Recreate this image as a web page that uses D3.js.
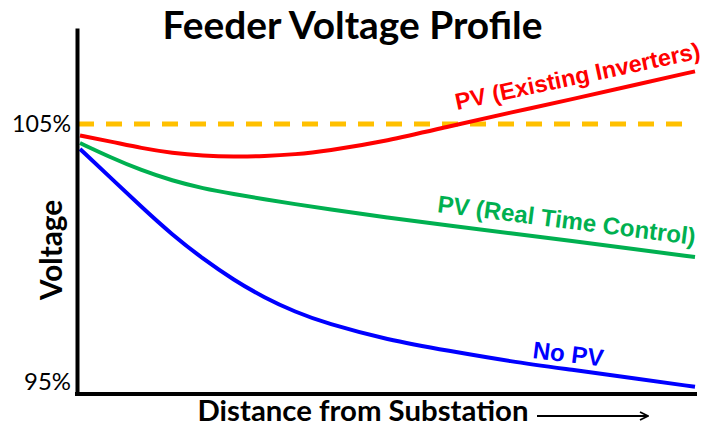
<!DOCTYPE html>
<html>
<head>
<meta charset="utf-8">
<script src="https://cdn.jsdelivr.net/npm/d3@7"></script>
<style>
  body { margin: 0; background: #fff; }
  svg { display: block; }
</style>
</head>
<body>
<div id="chart"></div>
<script>
const W = 711, H = 431;

// distance along feeder (% of length)
const distance = [0, 5, 10, 15, 20, 25, 30, 35, 40, 50, 60, 70, 80, 90, 100];
// voltage (%)
const noPV       = [104.03, 102.91, 101.78, 100.70, 99.77, 98.95, 98.26, 97.71, 97.27, 96.63, 96.20, 95.79, 95.47, 95.14, 94.81];
const pvRealTime = [104.26, 103.70, 103.20, 102.80, 102.50, 102.28, 102.08, 101.89, 101.71, 101.37, 101.06, 100.76, 100.46, 100.15, 99.84];
const pvExisting = [104.55, 104.32, 104.06, 103.87, 103.77, 103.73, 103.75, 103.82, 103.95, 104.34, 104.91, 105.44, 105.96, 106.50, 107.04];

const yTicks = [95, 105];
const limitValue = 105;
const limitEnd = 98.5;

const series = [
  { name: "No PV", values: noPV, color: "#0000ff", label: { d: 73.5, v: 95.93, angle: 7, width: 71 } },
  { name: "PV (Real Time Control)", values: pvRealTime, color: "#00b050", label: { d: 58.0, v: 101.59, angle: 7.3, width: 260 } },
  { name: "PV (Existing Inverters)", values: pvExisting, color: "#ff0000", label: { d: 61.3, v: 105.54, angle: -12, width: 250 } }
];

const svg = d3.select("#chart").append("svg")
  .attr("width", W)
  .attr("height", H);

const x = d3.scaleLinear().domain([0, 100]).range([80, 695]);
const y = d3.scaleLinear().domain([94.53, 108.72]).range([394, 28]);

// scale a text's font-size so that it spans the wanted width
function fit(sel, w) {
  const len = sel.node().getComputedTextLength();
  const fs = parseFloat(sel.attr("font-size"));
  sel.attr("font-size", (fs * w / len).toFixed(2));
  return sel;
}

// 105% limit
svg.append("line")
  .attr("x1", x(0) - 2).attr("x2", x(limitEnd))
  .attr("y1", y(limitValue)).attr("y2", y(limitValue))
  .attr("stroke", "#ffc000")
  .attr("stroke-width", 5)
  .attr("stroke-dasharray", "16,12");

const line = d3.line()
  .x((v, i) => x(distance[i]))
  .y(v => y(v))
  .curve(d3.curveBasis);

svg.selectAll(".curve")
  .data(series)
  .enter().append("path")
  .attr("class", "curve")
  .attr("d", d => line(d.values))
  .attr("fill", "none")
  .attr("stroke", d => d.color)
  .attr("stroke-width", 4);

svg.selectAll(".clabel")
  .data(series)
  .enter().append("text")
  .attr("class", "clabel")
  .attr("transform", d => `translate(${x(d.label.d)},${y(d.label.v)}) rotate(${d.label.angle})`)
  .attr("font-family", "Liberation Sans, Arial, sans-serif")
  .attr("font-weight", "bold")
  .attr("font-size", 20)
  .attr("fill", d => d.color)
  .text(d => d.name)
  .each(function(d) { fit(d3.select(this), d.label.width); });

// axes
const yAxis = d3.axisLeft(y)
  .tickValues(yTicks)
  .tickSize(0)
  .tickPadding(6)
  .tickFormat(d => d + "%");

const gy = svg.append("g")
  .attr("transform", "translate(77,0)")
  .call(yAxis);
gy.select(".domain").attr("stroke", "#000").attr("stroke-width", 4);
gy.selectAll("text")
  .attr("font-family", "Lato, sans-serif")
  .attr("font-size", 21)
  .attr("fill", "#000");
gy.selectAll(".tick text").filter(d => d === 105).each(function() { fit(d3.select(this), 59); });
gy.selectAll(".tick text").filter(d => d === 95).each(function() { fit(d3.select(this), 47); });

const gx = svg.append("g")
  .attr("transform", `translate(0,${y.range()[0]})`)
  .call(d3.axisBottom(x).tickValues([]).tickSizeOuter(0));
gx.select(".domain")
  .attr("d", `M75,0H697`)
  .attr("stroke", "#000").attr("stroke-width", 4);

// title
fit(svg.append("text")
  .attr("x", 352.5).attr("y", 39)
  .attr("text-anchor", "middle")
  .attr("font-family", "Lato, sans-serif")
  .attr("font-weight", "bold")
  .attr("font-size", 32)
  .text("Feeder Voltage Profile"), 380);

// axis titles
fit(svg.append("text")
  .attr("transform", "translate(62,250) rotate(-90)")
  .attr("text-anchor", "middle")
  .attr("font-family", "Lato, sans-serif")
  .attr("font-weight", "bold")
  .attr("font-size", 28)
  .text("Voltage"), 100);

fit(svg.append("text")
  .attr("x", 363).attr("y", 421)
  .attr("text-anchor", "middle")
  .attr("font-family", "Lato, sans-serif")
  .attr("font-weight", "bold")
  .attr("font-size", 25)
  .text("Distance from Substation"), 331);

// arrow after x title
svg.append("defs").append("marker")
  .attr("id", "head")
  .attr("viewBox", "0 0 10 10")
  .attr("refX", 9).attr("refY", 5)
  .attr("markerWidth", 10).attr("markerHeight", 10)
  .attr("markerUnits", "userSpaceOnUse")
  .attr("orient", "auto")
  .append("path")
  .attr("d", "M1,1L9,5L1,9")
  .attr("fill", "none")
  .attr("stroke", "#000")
  .attr("stroke-width", 1.8);

svg.append("line")
  .attr("x1", 537).attr("x2", 648)
  .attr("y1", 416).attr("y2", 416)
  .attr("stroke", "#000")
  .attr("stroke-width", 1.8)
  .attr("marker-end", "url(#head)");
</script>
</body>
</html>
